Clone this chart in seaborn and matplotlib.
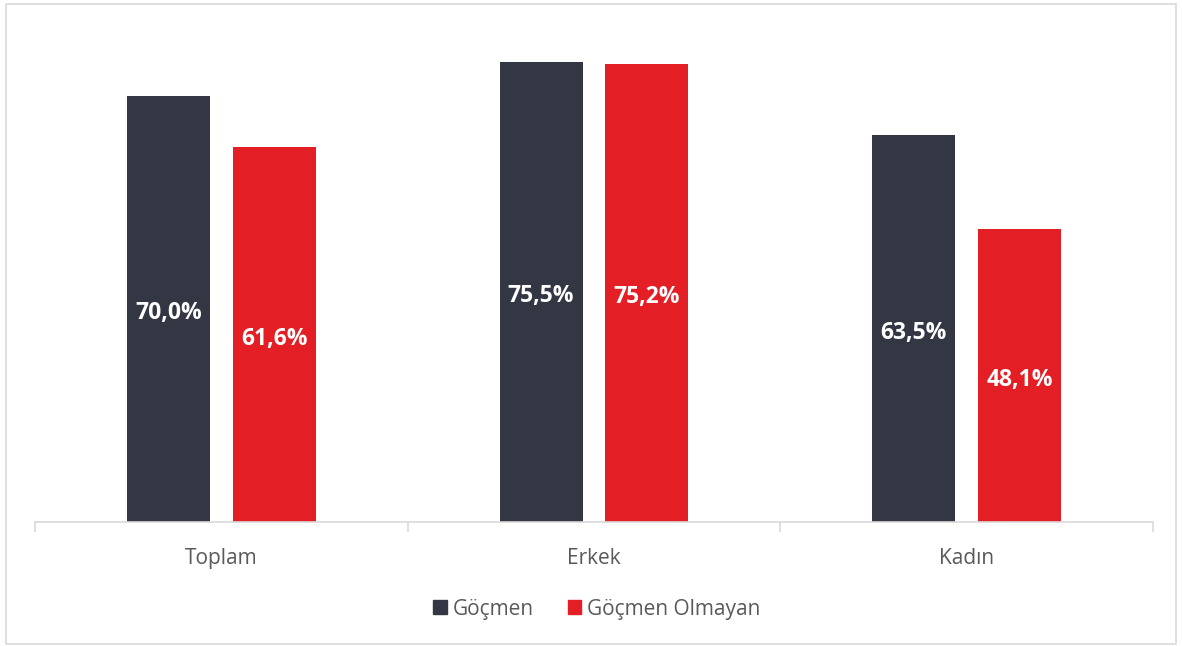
import matplotlib.pyplot as plt
import matplotlib.patches as mpatches
import pandas as pd
import seaborn as sns

categories = ['Toplam', 'Erkek', 'Kadın']
series = ['Göçmen', 'Göçmen Olmayan']
gocmen = [70.0, 75.5, 63.5]
gocmen_olmayan = [61.6, 75.2, 48.1]
colors = ['#333743', '#E31E24']

df = pd.DataFrame({
    'kategori': categories * 2,
    'grup': [series[0]] * 3 + [series[1]] * 3,
    'deger': gocmen + gocmen_olmayan,
})

sns.set_style('white')
plt.rcParams['font.family'] = ['Open Sans', 'DejaVu Sans']

fig = plt.figure(figsize=(11.82, 6.46), dpi=100)
ax = fig.add_axes([35 / 1182, 124 / 646, 1118 / 1182, 487 / 646])

sns.barplot(data=df, x='kategori', y='deger', hue='grup', order=categories,
            hue_order=series, palette=colors, width=0.568, gap=0.217,
            saturation=1, linewidth=0, ax=ax, legend=False)

# white bold labels in the middle of each bar
for cont in ax.containers:
    labels = [f'{v:.1f}%'.replace('.', ',') for v in cont.datavalues]
    anns = ax.bar_label(cont, labels=labels, label_type='center', color='white',
                        fontsize=16.5, fontweight='bold')
    for a in anns:
        a.xyann = (0, -3)

ax.set_xlim(-0.5, 2.5)
ax.set_ylim(0, 80)
ax.set_xlabel('')
ax.set_ylabel('')
ax.set_yticks([])
for s in ['top', 'right', 'left']:
    ax.spines[s].set_visible(False)
ax.spines['bottom'].set_color('#d9d9d9')
ax.spines['bottom'].set_linewidth(1.2)
ax.set_xticks([0, 1, 2])
ax.set_xticklabels(categories, fontsize=15, color='#595959')
ax.tick_params(axis='x', which='major', bottom=False, length=0, pad=19)
ax.set_xticks([-0.5, 0.5, 1.5, 2.5], minor=True)
ax.tick_params(axis='x', which='minor', bottom=True, length=7, color='#d9d9d9', width=1.2)

handles = [mpatches.Patch(color=c, label=s) for c, s in zip(colors, series)]
fig.legend(handles=handles, loc='center', bbox_to_anchor=(597 / 1182, 1 - 609 / 646),
           ncol=2, frameon=False, fontsize=15, labelcolor='#595959',
           handlelength=0.65, handleheight=0.65, handletextpad=0.3, columnspacing=1.6)

# light border around the chart
fig.patches.append(mpatches.Rectangle((6 / 1182, 2 / 646), 1170 / 1182, 640 / 646,
                                      transform=fig.transFigure, fill=False,
                                      edgecolor='#d9d9d9', linewidth=1.2))

fig.savefig('out.png', dpi=100)
